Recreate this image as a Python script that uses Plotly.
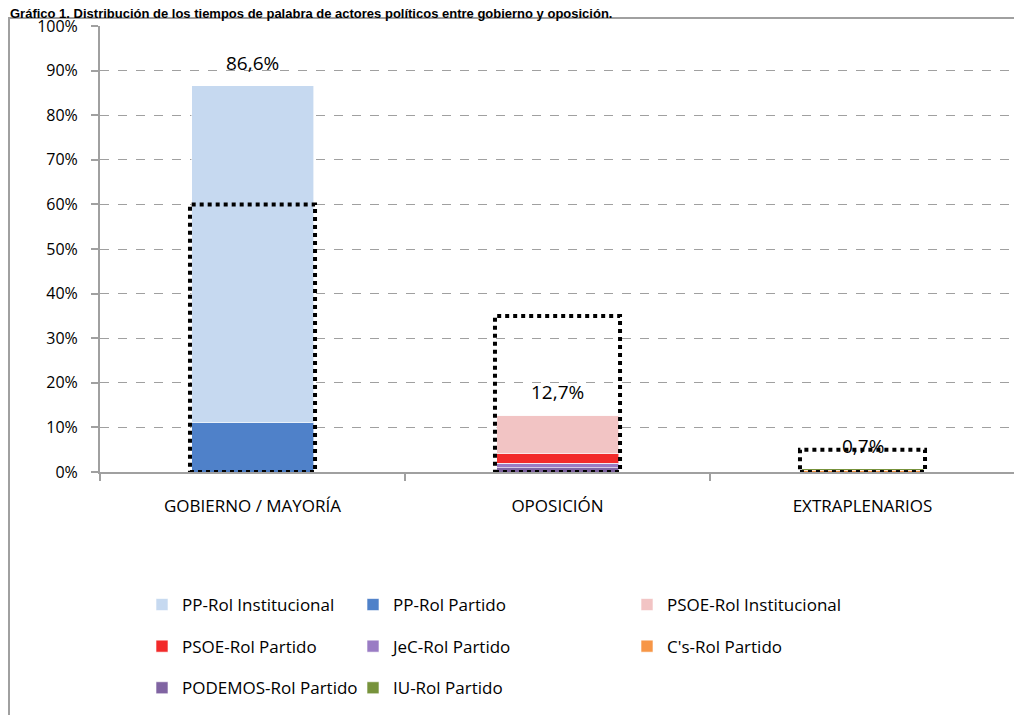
import plotly.graph_objects as go

categories = ["GOBIERNO / MAYORÍA", "OPOSICIÓN", "EXTRAPLENARIOS"]

# stacked series (bottom to top), values in %
pp_partido = [11.0, 0.0, 0.0]
pp_institucional = [75.6, 0.0, 0.0]
podemos_partido = [0.0, 1.0, 0.0]
jec_partido = [0.0, 1.0, 0.0]
psoe_partido = [0.0, 2.1, 0.0]
psoe_institucional = [0.0, 8.6, 0.0]
cs_partido = [0.0, 0.0, 0.4]
iu_partido = [0.0, 0.0, 0.3]

totals = [86.6, 12.7, 0.7]
total_labels = ["86,6%", "12,7%", "0,7%"]
reference_boxes = [60.0, 35.0, 5.0]  # dotted outlines

y_ticks = [0, 10, 20, 30, 40, 50, 60, 70, 80, 90, 100]
y_tick_labels = [f"{v}%" for v in y_ticks]

FONT = "Open Sans"

# (name, values, colour, legend)
series = [
    ("PP-Rol Partido", pp_partido, "#4f81c9", "legend2"),
    ("PP-Rol Institucional", pp_institucional, "#c6d9f0", "legend"),
    ("PODEMOS-Rol Partido", podemos_partido, "#8064a2", "legend"),
    ("JeC-Rol Partido", jec_partido, "#9a7cc4", "legend2"),
    ("PSOE-Rol Partido", psoe_partido, "#f22a2a", "legend"),
    ("PSOE-Rol Institucional", psoe_institucional, "#f2c4c4", "legend3"),
    ("C's-Rol Partido", cs_partido, "#f79646", "legend3"),
    ("IU-Rol Partido", iu_partido, "#77933c", "legend2"),
]

legend_rank = {
    "PP-Rol Institucional": 1, "PP-Rol Partido": 2, "PSOE-Rol Institucional": 3,
    "PSOE-Rol Partido": 4, "JeC-Rol Partido": 5, "C's-Rol Partido": 6,
    "PODEMOS-Rol Partido": 7, "IU-Rol Partido": 8,
}

# page has an 8px body margin; figure sized so it fits the window
W, H = 1014, 707
L, R, T, B = 92, 7, 18, 243
pw, ph = W - L - R, H - T - B
OFF = 8


def px(sx):  # screen x -> paper
    return (sx - OFF - L) / pw


def py(sy):  # screen y -> paper
    return (H - B - (sy - OFF)) / ph


fig = go.Figure()
for name, vals, col, leg in series:
    fig.add_trace(go.Bar(
        x=categories, y=vals, name=name,
        marker=dict(color=col, line=dict(color="rgba(255,255,255,0.6)", width=1)),
        legend=leg, legendgroup=name, legendrank=legend_rank[name],
        hoverinfo="skip",
    ))

# total labels
for cat, t, lab in zip(categories, totals, total_labels):
    fig.add_annotation(x=cat, y=t, text=lab, showarrow=False, yanchor="middle",
                       yshift=23, font=dict(family=FONT, size=19, color="#000000"))

# dotted reference boxes
for i, v in enumerate(reference_boxes):
    fig.add_shape(type="rect", xref="x", yref="y", x0=i - 0.205, x1=i + 0.205,
                  y0=0, y1=v, line=dict(color="#000000", width=4, dash="dot"),
                  fillcolor="rgba(0,0,0,0)", layer="above")

# outer chart frame
fig.add_shape(type="rect", xref="paper", yref="paper",
              x0=px(9), x1=px(1021), y0=py(760), y1=py(18),
              line=dict(color="#a0a0a0", width=2), layer="below")

# title (at the very top, as in the reference)
fig.add_annotation(xref="paper", yref="paper", x=px(8), y=py(13), xanchor="left",
                   yanchor="middle", showarrow=False,
                   text="<b>Gráfico 1. Distribución de los tiempos de palabra de actores políticos entre gobierno y oposición.</b>",
                   font=dict(family="Liberation Sans", size=13, color="#000000"))

leg_common = dict(orientation="v", yanchor="top", xanchor="left", tracegroupgap=16.5,
                  font=dict(family=FONT, size=17, color="#000000"),
                  bgcolor="rgba(0,0,0,0)", itemwidth=30, traceorder="grouped")

fig.update_layout(
    width=W, height=H,
    margin=dict(l=L, r=R, t=T, b=B),
    barmode="stack", bargap=0.6,
    plot_bgcolor="white", paper_bgcolor="white",
    font=dict(family=FONT, size=16, color="#000000"),
    xaxis=dict(showline=True, linecolor="#a0a0a0", linewidth=2, ticks="outside",
               tickson="boundaries", ticklen=7, tickcolor="#a0a0a0", tickwidth=2,
               tickfont=dict(family=FONT, size=17), showgrid=False,
               ticklabelstandoff=18),
    yaxis=dict(range=[0, 100], tickvals=y_ticks, ticktext=y_tick_labels,
               showline=True, linecolor="#a0a0a0", linewidth=2, ticks="outside",
               ticklen=7, tickcolor="#a0a0a0", tickwidth=2, showgrid=True,
               gridcolor="#a0a0a0", gridwidth=1, griddash="dash", zeroline=False,
               tickfont=dict(family=FONT, size=16), ticklabelstandoff=10),
    legend=dict(x=px(142), y=py(587), **leg_common),
    legend2=dict(x=px(353), y=py(587), **leg_common),
    legend3=dict(x=px(627), y=py(587), **leg_common),
)

fig.write_html("out.html")
